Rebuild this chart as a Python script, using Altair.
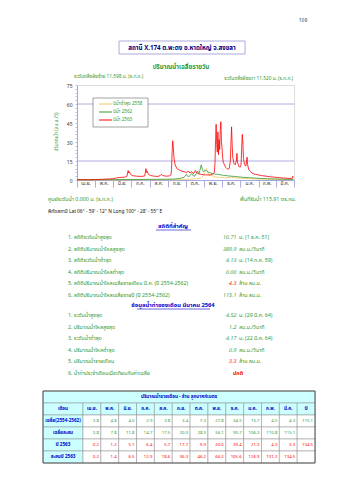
import altair as alt
import pandas as pd

# ---------------- colours / fonts ----------------
GREEN = "#339933"
BLUE = "#0000cc"
RED = "#ff0000"
NAVY = "#000080"
FRAME = "#9999dd"
FONT = "Noto Sans Thai, Tahoma, Liberation Serif, Noto Sans, DejaVu Sans, sans-serif"

# ---------------- chart data ----------------
months = ["เม.ย.", "พ.ค.", "มิ.ย.", "ก.ค.", "ส.ค.", "ก.ย.", "ต.ค.", "พ.ย.", "ธ.ค.", "ม.ค.", "ก.พ.", "มี.ค."]
month_days = [30, 31, 30, 31, 31, 30, 31, 30, 31, 31, 28, 31]

series_names = ["ปีน้ำต่ำสุด 2558", "ปีน้ำ 2562", "ปีน้ำ 2563"]
series_colors = ["#f2c75c", "#339933", "#ff0000"]

y2558_day = [0, 60, 120, 170, 190, 200, 208, 212, 214, 216, 218, 220, 222, 226, 232, 240, 250, 260, 270, 290, 320, 364]
y2558_q = [0.1, 0.1, 0.2, 0.3, 0.6, 1.0, 1.5, 3.0, 5.0, 7.5, 9.0, 6.0, 4.0, 3.5, 2.5, 2.0, 1.8, 2.2, 1.5, 1.0, 0.6, 0.4]

y2562_day = [0, 30, 60, 90, 120, 150, 165, 175, 180, 184, 186, 188, 191, 193, 195, 198, 201, 203, 205, 207,
             209, 211, 213, 216, 218, 222, 228, 235, 245, 255, 265, 275, 290, 305, 320, 340, 364]
y2562_q = [0.2, 0.2, 0.3, 0.4, 0.5, 0.6, 0.8, 1.5, 2.0, 4.5, 3.0, 2.5, 4.0, 5.0, 3.5, 3.0, 5.5, 7.0, 5.0, 8.0,
           12.0, 8.0, 6.5, 8.0, 7.0, 6.0, 5.0, 4.5, 3.8, 3.2, 2.8, 2.3, 1.8, 1.3, 1.0, 0.7, 0.5]

y2563_day = [0, 10, 20, 29, 35, 45, 55, 60, 65, 72, 80, 84, 86, 87, 88, 90, 93, 100, 108, 114,
             116, 117, 118, 120, 124, 130, 136, 140, 142, 144, 150, 155, 158, 159, 160, 161, 162, 163, 165, 168,
             172, 176, 180, 184, 188, 190, 193, 196, 199, 201, 204, 208, 212, 218, 224, 228, 231, 232, 233, 234,
             235, 236, 237, 238, 239, 240, 241, 242, 243, 244, 245, 246, 248, 250, 252, 254, 256, 258, 259, 260,
             261, 262, 264, 266, 268, 269, 270, 272, 274, 276, 277, 278, 279, 280, 282, 284, 286, 287, 289, 292,
             296, 300, 305, 310, 318, 326, 333, 340, 350, 358, 362, 363, 364]
y2563_q = [0.3, 0.2, 0.2, 0.3, 0.4, 0.6, 0.9, 1.0, 1.5, 2.0, 2.2, 3.0, 7.5, 5.5, 6.5, 4.5, 3.5, 3.0, 2.8, 3.2,
           9.0, 6.0, 7.0, 4.5, 3.5, 3.0, 2.8, 3.5, 4.5, 3.5, 3.0, 3.2, 4.0, 8.0, 22.0, 31.0, 26.0, 18.0, 12.0, 9.0,
           8.0, 7.0, 6.5, 6.0, 7.0, 5.5, 6.5, 5.0, 7.5, 6.0, 5.0, 4.5, 4.2, 4.0, 4.0, 4.5, 6.0, 12.0, 30.0, 44.0,
           28.0, 22.0, 38.0, 20.0, 32.0, 24.0, 40.0, 46.0, 30.0, 25.0, 18.0, 14.0, 12.0, 10.0, 9.0, 8.5, 9.0, 15.0, 30.0, 42.0,
           28.0, 18.0, 13.0, 12.0, 15.0, 21.0, 14.0, 11.0, 10.0, 12.0, 25.0, 36.0, 30.0, 17.0, 12.0, 11.0, 18.0, 12.0, 8.0, 6.5,
           5.0, 4.5, 4.0, 3.5, 3.0, 2.5, 2.2, 1.8, 1.5, 1.2, 1.4, 3.0, 2.2]

ref_levels = [15, 60]
y_tick_values = list(range(0, 76, 3))

# ---------------- text data ----------------
page_no = "109"
station_title = "สถานี X.174 ต.พะตง อ.หาดใหญ่ จ.สงขลา"
chart_title = "ปริมาณน้ำเฉลี่ยรายวัน"
bank_left = "ระดับตลิ่งฝั่งซ้าย 11.598 ม. (ร.ท.ก.)"
bank_right = "ระดับตลิ่งฝั่งขวา 11.520 ม. (ร.ท.ก.)"
y_title = "ปริมาณน้ำ (ลบ.ม./วิ)"
gauge_zero = "ศูนย์ระดับน้ำ 0.000 ม. (ร.ท.ก.)"
catchment = "พื้นที่รับน้ำ 115.91 ตร.กม."
coords = "พิกัดสถานี Lat 06° - 59' - 12'' N  Long 100° - 28' - 55'' E"

stats_title = "สถิติที่สำคัญ"
stats_labels = ["1. สถิติระดับน้ำสูงสุด", "2. สถิติปริมาณน้ำไหลสูงสุด", "3. สถิติระดับน้ำต่ำสุด",
                "4. สถิติปริมาณน้ำไหลต่ำสุด", "5. สถิติปริมาณน้ำไหลเฉลี่ยรายเดือน  มี.ค. (ปี 2554-2562)",
                "6. สถิติปริมาณน้ำไหลเฉลี่ยรายปี (ปี 2554-2562)"]
stats_values = ["10.71", "389.9", "4.13", "0.00", "4.3", "115.1"]
stats_units = ["ม. (1 ธ.ค. 51)", "ลบ.ม./วินาที", "ม. (14 ก.ค. 59)", "ลบ.ม./วินาที", "ล้าน ลบ.ม.", "ล้าน ลบ.ม."]
stats_red = [False, False, False, False, True, False]

month_title = "ข้อมูลน้ำท่าของเดือน มีนาคม 2564"
month_labels = ["1. ระดับน้ำสูงสุด", "2. ปริมาณน้ำไหลสูงสุด", "3. ระดับน้ำต่ำสุด", "4. ปริมาณน้ำไหลต่ำสุด",
                "5. ปริมาณน้ำรายเดือน", "6. น้ำท่าประจำเดือนเมื่อเทียบกับค่าเฉลี่ย"]
month_values = ["4.52", "1.2", "4.17", "0.9", "3.3", ""]
month_units = ["ม. (29 มี.ค. 64)", "ลบ.ม./วินาที", "ม. (22 มี.ค. 64)", "ลบ.ม./วินาที", "ล้าน ลบ.ม.", ""]
month_red = [False, False, False, False, True, False]
condition = "ปกติ"

tbl_title = "ปริมาณน้ำรายเดือน - ล้าน ลูกบาศก์เมตร"
tbl_head = "เดือน"
tbl_cols = months + ["ปี"]
row_names = ["เฉลี่ย(2554-2562)", "เฉลี่ยสะสม", "ปี 2563", "สะสมปี 2563"]
avg_vals = ["3.8", "4.8", "4.0", "2.9", "3.8", "3.4", "7.3", "27.8", "34.5", "15.7", "4.5", "4.3", "115.1"]
avg_cum = ["3.8", "7.8", "11.8", "14.7", "17.5", "20.0", "28.3", "56.1", "90.7", "106.3", "110.8", "115.1", ""]
y2563_vals = ["0.2", "1.2", "5.1", "6.4", "5.7", "17.7", "9.9", "20.0", "39.4", "21.3", "4.3", "3.3", "134.5"]
y2563_cum = ["0.2", "1.4", "6.5", "12.9", "18.6", "36.3", "46.2", "66.2", "105.6", "126.9", "131.2", "134.5", ""]
row_values = [avg_vals, avg_cum, y2563_vals, y2563_cum]
row_colors = [GREEN, GREEN, RED, RED]

# ---------------- layout constants (pixels, relative to plot origin) ----------------
W, H = 217, 95
PAD = {"left": 77, "top": 85, "right": 45, "bottom": 300}

boundaries = [0]
for d in month_days:
    boundaries.append(boundaries[-1] + d)
mids = [(a + b) / 2 for a, b in zip(boundaries[:-1], boundaries[1:])]

x_scale = alt.Scale(domain=[0, boundaries[-1]], nice=False, zero=False)
y_scale = alt.Scale(domain=[0, 75], nice=False)
x_axis = alt.Axis(values=boundaries, labels=False, tickSize=7, grid=False, title=None,
                  domainColor=FRAME, tickColor=FRAME, tickWidth=0.8, domainWidth=0.8)
y_axis = alt.Axis(values=y_tick_values, labelExpr="datum.value % 15 == 0 ? datum.label : ''",
                  tickSize=2, labelFontSize=5, labelPadding=3, grid=False, title=None,
                  domainColor=FRAME, tickColor=FRAME, tickWidth=0.6, domainWidth=0.8,
                  labelColor="#333333", labelFont=FONT)


def txt(s, x, y, size=5.3, color=GREEN, align="left", weight="normal", style="normal", angle=0):
    return alt.Chart(pd.DataFrame({"t": [s]})).mark_text(
        align=align, baseline="middle", fontSize=size, color=color, fontWeight=weight,
        fontStyle=style, angle=angle, font=FONT
    ).encode(x=alt.value(x), y=alt.value(y), text="t:N")


def box(x0, x1, y0, y1, stroke, fill="white", sw=0.8):
    return alt.Chart(pd.DataFrame({"a": [0]})).mark_rect(fill=fill, stroke=stroke, strokeWidth=sw).encode(
        x=alt.value(x0), x2=alt.value(x1), y=alt.value(y0), y2=alt.value(y1))


def hline(x0, x1, y, color, sw=0.6):
    return alt.Chart(pd.DataFrame({"a": [0]})).mark_rule(color=color, strokeWidth=sw).encode(
        x=alt.value(x0), x2=alt.value(x1), y=alt.value(y))


# ---------------- main plot ----------------
rules = alt.Chart(pd.DataFrame({"q": ref_levels})).mark_rule(color=FRAME, strokeWidth=0.8).encode(
    y=alt.Y("q:Q", scale=y_scale, axis=y_axis))

month_lbl = alt.Chart(pd.DataFrame({"m": months, "mid": mids})).mark_text(
    fontSize=4.8, baseline="middle", color="#333333", font=FONT
).encode(x=alt.X("mid:Q", scale=x_scale, axis=x_axis), y=alt.value(H + 4), text="m:N")

series_data = [(y2558_day, y2558_q), (y2562_day, y2562_q), (y2563_day, y2563_q)]
series_layers = []
for (days, qs), col in zip(series_data, series_colors):
    df = pd.DataFrame({"day": days, "q": qs})
    series_layers.append(
        alt.Chart(df).mark_line(color=col, strokeWidth=0.8).encode(
            x=alt.X("day:Q", scale=x_scale, axis=x_axis),
            y=alt.Y("q:Q", scale=y_scale, axis=y_axis),
            order="day:Q"))

# manual legend
legend_layers = [box(16, 71, 13, 42, "#666666", sw=0.6)]
for i, (name, col) in enumerate(zip(series_names, series_colors)):
    yy = 19 + 8 * i
    legend_layers.append(hline(22, 35, yy, col, sw=1))
    legend_layers.append(txt(name, 36, yy, size=4.6, color=GREEN))

# ---------------- annotations ----------------
ann = [
    txt(page_no, 226, -65, size=5, color="#444444", align="center"),
    box(42, 168, -44, -31, "#aaaadd", sw=1),
    txt(station_title, 105, -37.5, size=6.2, color=NAVY, align="center", weight="bold"),
    txt(chart_title, 104, -18, size=6.2, color=GREEN, align="center", weight="bold"),
    txt(bank_left, -3, -8, size=4.8, color=GREEN),
    txt(bank_right, 216, -6, size=4.8, color=GREEN, align="right"),
    txt(y_title, -20, 47, size=4.8, color=GREEN, align="center", angle=270),
    txt(gauge_zero, -29, 114, size=5.3, color=GREEN),
    txt(catchment, 219, 114, size=5.3, color=GREEN, align="right"),
    txt(coords, -29, 127, size=4.8, color="#111111"),
    txt(stats_title, 96, 141, size=5.8, color=BLUE, align="center", weight="bold"),
    hline(79, 114, 145, BLUE, sw=0.6),
    txt(month_title, 96, 220, size=5.8, color=BLUE, align="center", weight="bold"),
    hline(60, 133, 224, BLUE, sw=0.6),
]
for i in range(6):
    yy = 152 + 11.6 * i
    ann.append(txt(stats_labels[i], -9, yy))
    ann.append(txt(stats_values[i], 159, yy, color=RED if stats_red[i] else GREEN,
                   align="right", style="italic"))
    ann.append(txt(stats_units[i], 162, yy))
for i in range(6):
    yy = 230 + 11.6 * i
    ann.append(txt(month_labels[i], -9, yy))
    if month_values[i]:
        ann.append(txt(month_values[i], 159, yy, color=RED if month_red[i] else GREEN,
                       align="right", style="italic"))
    if month_units[i]:
        ann.append(txt(month_units[i], 162, yy))
ann.append(txt(condition, 156, 288, color=RED, weight="bold"))

# ---------------- table (pixel grid computed from row / column index) ----------------
T_X0, T_Y0 = -34, 306          # table top-left, relative to plot origin
FIRST_W, COL_W, ROW_H = 40, 17.85, 12
NCOL = len(tbl_cols)
T_W = FIRST_W + NCOL * COL_W
CYAN = "#ccffff"


def col_left(j):
    return T_X0 + FIRST_W + j * COL_W


def row_top(r):
    return T_Y0 + r * ROW_H


cells = [dict(x0=T_X0, x1=T_X0 + T_W, y0=row_top(0), y1=row_top(1), fill=CYAN)]
center_txt = [dict(x=T_X0 + T_W / 2, y=row_top(0.5), t=tbl_title, col=BLUE)]
num_txt = []
cells.append(dict(x0=T_X0, x1=col_left(0), y0=row_top(1), y1=row_top(2), fill=CYAN))
center_txt.append(dict(x=T_X0 + FIRST_W / 2, y=row_top(1.5), t=tbl_head, col=BLUE))
for j, name in enumerate(tbl_cols):
    cells.append(dict(x0=col_left(j), x1=col_left(j + 1), y0=row_top(1), y1=row_top(2), fill=CYAN))
    center_txt.append(dict(x=col_left(j + 0.5), y=row_top(1.5), t=name, col=BLUE))
for r, (rname, vals, col) in enumerate(zip(row_names, row_values, row_colors)):
    rr = 2 + r
    cells.append(dict(x0=T_X0, x1=col_left(0), y0=row_top(rr), y1=row_top(rr + 1), fill=CYAN))
    center_txt.append(dict(x=T_X0 + FIRST_W / 2, y=row_top(rr + 0.5), t=rname, col=BLUE))
    for j, v in enumerate(vals):
        cells.append(dict(x0=col_left(j), x1=col_left(j + 1), y0=row_top(rr), y1=row_top(rr + 1), fill="white"))
        if v:
            num_txt.append(dict(x=col_left(j + 1) - 2, y=row_top(rr + 0.5), t=v, col=col))

px = lambda f: alt.X(f, scale=None, axis=None)
py = lambda f: alt.Y(f, scale=None, axis=None)

tbl_cells = alt.Chart(pd.DataFrame(cells)).mark_rect(stroke="#8a8a8a", strokeWidth=0.5).encode(
    x=px("x0:Q"), x2="x1:Q", y=py("y0:Q"), y2="y1:Q", fill=alt.Fill("fill:N", scale=None))
tbl_frame = box(T_X0, T_X0 + T_W, row_top(0), row_top(6), "#555555", fill="transparent", sw=1)
tbl_center = alt.Chart(pd.DataFrame(center_txt)).mark_text(
    fontSize=4.6, fontWeight="bold", baseline="middle", align="center", font=FONT).encode(
    x=px("x:Q"), y=py("y:Q"), text="t:N", color=alt.Color("col:N", scale=None))
tbl_nums = alt.Chart(pd.DataFrame(num_txt)).mark_text(
    fontSize=4.3, baseline="middle", align="right", font=FONT).encode(
    x=px("x:Q"), y=py("y:Q"), text="t:N", color=alt.Color("col:N", scale=None))

chart = alt.layer(
    rules, month_lbl, *legend_layers, *series_layers, *ann, tbl_cells, tbl_frame, tbl_center, tbl_nums
).properties(
    width=W, height=H, padding=PAD, autosize=alt.AutoSizeParams(type="none"), background="white"
).configure_view(stroke=FRAME, strokeWidth=0.8).configure(font=FONT)

chart.save("out.html", embed_options={"renderer": "svg", "actions": False})
